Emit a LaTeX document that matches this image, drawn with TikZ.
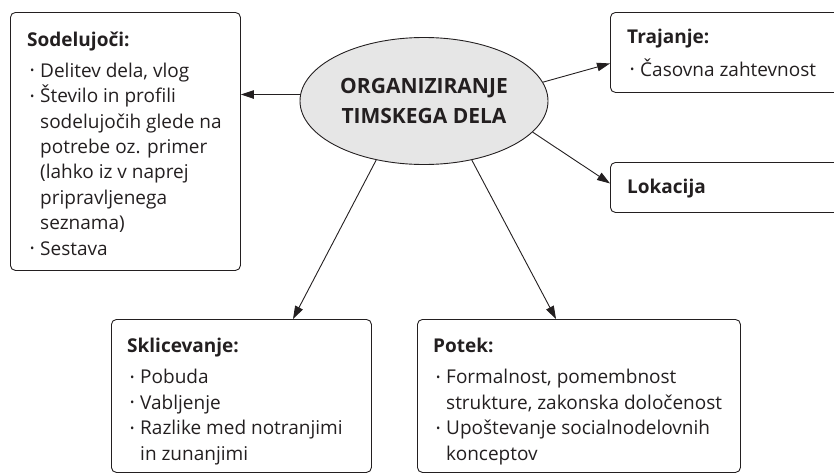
\documentclass[tikz,border=0pt]{standalone}
\usepackage{fontspec}
\setmainfont{Open Sans}
\usetikzlibrary{arrows.meta,shapes.geometric,calc}
\definecolor{inkc}{HTML}{231F20}
\definecolor{ellfill}{HTML}{E6E6E6}
\newcommand{\bul}{\makebox[13pt][l]{\hspace{3pt}\raisebox{0.25ex}{\scalebox{0.6}{•}}}}
\newcommand{\ind}{\hspace*{13pt}}
\begin{document}
\begin{tikzpicture}[x=1pt,y=-1pt,
  every node/.style={text=inkc},
  boxnode/.style={draw=inkc, line width=0.9pt, rounded corners=5pt, anchor=north west, inner sep=0pt},
  txt/.style={anchor=base west, inner sep=0pt, align=left, font=\fontsize{19}{25.4}\selectfont},
  arr/.style={draw=inkc, line width=0.9pt, -{Triangle[length=13pt,width=8.5pt]}}
]
\clip (0,0) rectangle (834,474);
% boxes
\node[boxnode, minimum width=230pt, minimum height=258pt] (s) at (10,12) {};
\node[boxnode, minimum width=240pt, minimum height=80pt] (t) at (610,12) {};
\node[boxnode, minimum width=240pt, minimum height=50pt] (l) at (610,162) {};
\node[boxnode, minimum width=260pt, minimum height=153pt] (k) at (111,319) {};
\node[boxnode, minimum width=323pt, minimum height=153pt] (p) at (417,319) {};
% centre ellipse
\node[ellipse, draw=inkc, line width=0.9pt, fill=ellfill, minimum width=248pt, minimum height=127pt, inner sep=0pt, align=center, font=\fontsize{21}{30}\selectfont\bfseries] (c) at (424,101) {ORGANIZIRANJE\\TIMSKEGA DELA};
% texts (anchored at the baseline of the last line)
\node[txt] (st) at (27,255) {\textbf{Sodelujoči:}\\[5.6pt]
\bul Delitev dela, vlog\\
\bul Število in profili\\
\ind sodelujočih glede na\\
\ind potrebe oz. primer\\
\ind (lahko iz v naprej\\
\ind pripravljenega\\
\ind seznama)\\
\bul Sestava};
\node[txt] (tt) at (627,76) {\textbf{Trajanje:}\\[7.6pt]
\bul Časovna zahtevnost};
\node[txt] (lt) at (627,193) {\textbf{Lokacija}};
\node[txt] (kt) at (127,460) {\textbf{Sklicevanje:}\\[5.6pt]
\bul Pobuda\\
\bul Vabljenje\\
\bul Razlike med notranjimi\\
\ind in zunanjimi};
\node[txt] (pt) at (433,460) {\textbf{Potek:}\\[5.6pt]
\bul Formalnost, pomembnost\\
\ind strukture, zakonska določenost\\
\bul Upoštevanje socialnodelovnih\\
\ind konceptov};
% connectors
\draw[arr] (c.177.2) -- (c.177.2 -| s.east);
\draw[arr] (c.9.6) -- ([yshift=-11pt]t.west);
\draw[arr] (c.-16.5) -- ([yshift=4pt]l.west);
\draw[arr] (c.231.5) -- ($(k.north west)+(182,0)$);
\draw[arr] (c.-51.7) -- ($(p.north west)+(139,0)$);
\end{tikzpicture}
\end{document}
